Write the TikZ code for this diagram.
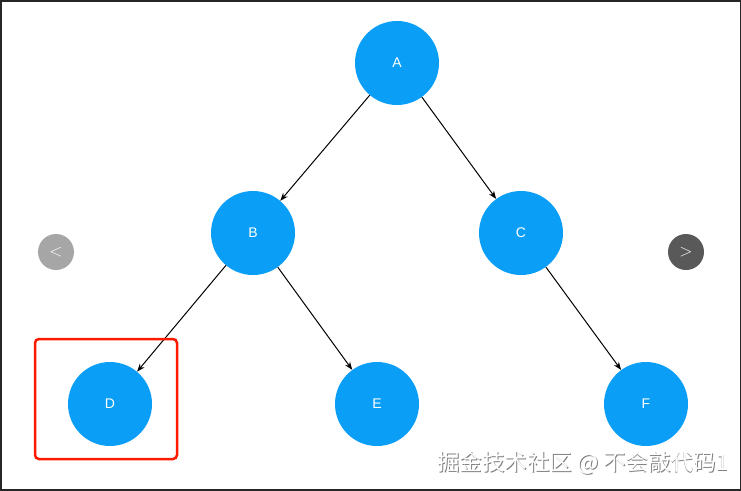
\documentclass[tikz,border=0pt]{standalone}
\usepackage{fontspec}
\setmainfont{Liberation Sans}
\newfontfamily\cjk{Noto Sans CJK SC}
\usetikzlibrary{arrows.meta}
\definecolor{nodeblue}{HTML}{0A9EF7}
\begin{document}
\begin{tikzpicture}[x=1pt,y=-1pt,
  tnode/.style={circle,fill=nodeblue,minimum size=84pt,inner sep=0pt,text=white,font=\fontsize{14}{16}\selectfont},
  edge/.style={-{Stealth[length=8pt,width=6pt]},line width=1pt,black}]
\useasboundingbox (0,0) rectangle (741,490);
\fill[white] (0,0) rectangle (741,490);
\draw[black!85,line width=3pt] (0,0) rectangle (741,490);
\node[tnode] (A) at (397,63) {A};
\node[tnode] (B) at (253,233) {B};
\node[tnode] (C) at (521,233) {C};
\node[tnode] (D) at (110,404) {D};
\node[tnode] (E) at (377,404) {E};
\node[tnode] (F) at (646,404) {F};
\draw[edge] (A) -- (B);
\draw[edge] (A) -- (C);
\draw[edge] (B) -- (D);
\draw[edge] (B) -- (E);
\draw[edge] (C) -- (F);
\draw[red!80!orange,line width=2.5pt,rounded corners=4pt] (35,339) rectangle (177,459);
\node[circle,fill=black!35,minimum size=36pt,text=white] (L) at (56,252) {\fontsize{16}{16}\selectfont$<$};
\node[circle,fill=black!65,minimum size=36pt,text=white] (R) at (686,252) {\fontsize{16}{16}\selectfont$>$};
\node[text=black!50,font=\cjk\fontsize{22.5}{24}\selectfont] at (583.8,463.8) {掘金技术社区 @ 不会敲代码1};
\node[text=white,font=\cjk\fontsize{22.5}{24}\selectfont] (W) at (583,463) {掘金技术社区 @ 不会敲代码1};
\end{tikzpicture}
\end{document}
